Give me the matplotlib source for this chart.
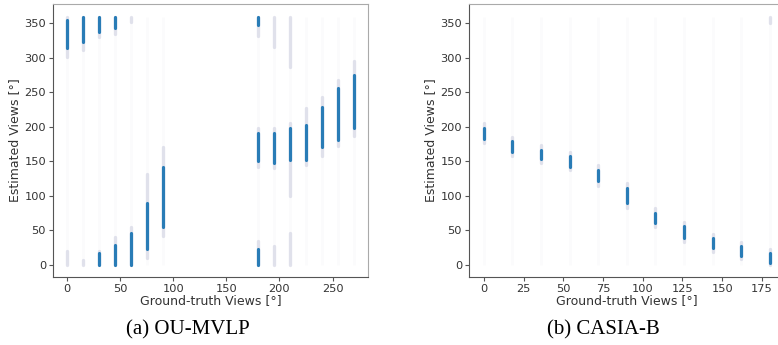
import matplotlib
matplotlib.use("Agg")
import matplotlib.pyplot as plt

# OU-MVLP: ground-truth views and estimated-view ranges (deg)
ou_views = [0, 15, 30, 45, 60, 75, 90, 180, 195, 210, 225, 240, 255, 270]
ou_core = [
    [(314, 355)],
    [(323, 360)],
    [(338, 360), (0, 17)],
    [(343, 360), (0, 29)],
    [(0, 46)],
    [(22, 89)],
    [(55, 142)],
    [(348, 360), (150, 191), (0, 22)],
    [(147, 191)],
    [(152, 198)],
    [(152, 203)],
    [(171, 229)],
    [(181, 256)],
    [(198, 275)],
]
ou_halo = [
    [(302, 360), (0, 20)],
    [(312, 360), (0, 6)],
    [(330, 360), (0, 20)],
    [(335, 360), (0, 40)],
    [(352, 360), (0, 55)],
    [(10, 132)],
    [(42, 170)],
    [(332, 360), (142, 198), (0, 35)],
    [(316, 360), (140, 198), (0, 27)],
    [(287, 360), (100, 205), (0, 46)],
    [(145, 228)],
    [(158, 243)],
    [(172, 268)],
    [(187, 295)],
]

# CASIA-B
casia_views = [0, 18, 36, 54, 72, 90, 108, 126, 144, 162, 180]
casia_core = [
    [(183, 198)], [(164, 179)], [(153, 167)], [(142, 157)], [(121, 138)],
    [(89, 111)], [(60, 75)], [(39, 56)], [(24, 39)], [(13, 27)], [(2, 17)],
]
casia_halo = [
    [(176, 206)], [(158, 185)], [(148, 173)], [(137, 163)], [(114, 145)],
    [(82, 118)], [(54, 82)], [(33, 62)], [(19, 45)], [(8, 33)], [(0, 23), (350, 360)],
]

blue = "#1f77b4"
txt = "#333333"


def draw(ax, views, core, halo, xticks, xlim):
    for v in views:
        ax.vlines(v, 0, 360, color="#a0a0b8", alpha=0.035, lw=2.2)
    for v, segs in zip(views, halo):
        for lo, hi in segs:
            ax.vlines(v, lo, hi, color="#8085b0", alpha=0.22, lw=2.4, capstyle="round")
    for v, segs in zip(views, core):
        for lo, hi in segs:
            ax.vlines(v, lo, hi, color=blue, alpha=0.95, lw=2.3, capstyle="round")
    ax.set_xlim(*xlim)
    ax.set_ylim(-18, 378)
    ax.set_xticks(xticks)
    ax.set_yticks(range(0, 351, 50))
    ax.set_xlabel("Ground-truth Views [°]", fontsize=9, color=txt, labelpad=0)
    ax.set_ylabel("Estimated Views [°]", fontsize=9, color=txt, labelpad=2)
    ax.tick_params(labelsize=8.2, colors="#555555", labelcolor=txt,
                   length=3, width=0.8, pad=2)
    for s in ["left", "bottom"]:
        ax.spines[s].set_color("#555555")
    for s in ["top", "right"]:
        ax.spines[s].set_color("#aaaaaa")


fig = plt.figure(figsize=(7.78, 3.45), dpi=100)
ax1 = fig.add_axes([0.0681, 0.197, 0.405, 0.791])
ax2 = fig.add_axes([0.6028, 0.197, 0.405, 0.791])

draw(ax1, ou_views, ou_core, ou_halo, range(0, 251, 50), (-13.5, 283.5))
draw(ax2, casia_views, casia_core, casia_halo, range(0, 176, 25), (-9.4, 189))

fig.text(0.242, 0.043, "(a) OU-MVLP", ha="center", va="center",
         fontsize=15, family="Liberation Serif")
fig.text(0.776, 0.043, "(b) CASIA-B", ha="center", va="center",
         fontsize=15, family="Liberation Serif")

fig.savefig("out.png", dpi=100)
